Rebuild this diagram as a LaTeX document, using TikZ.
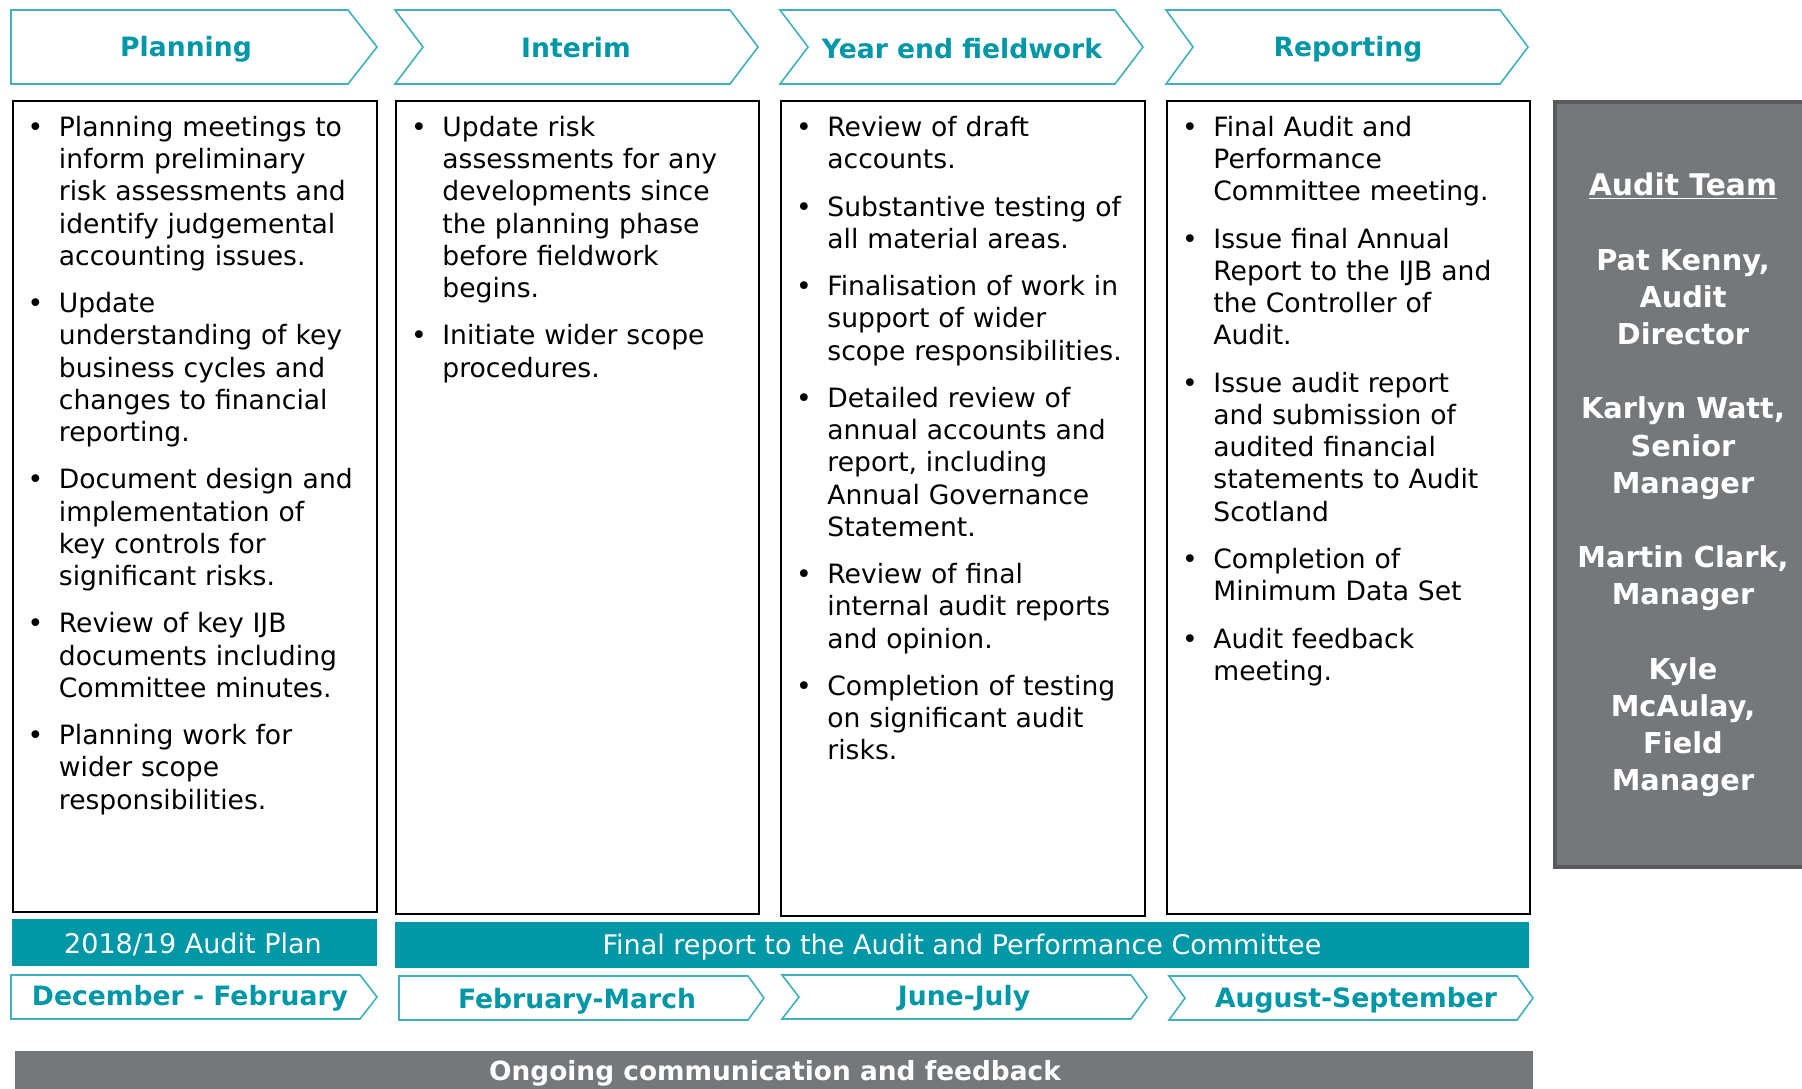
\documentclass[tikz,border=0pt]{standalone}
\usepackage{fontspec}
\setmainfont{DejaVu Sans}

\definecolor{auditteal}{RGB}{0,151,167}
\definecolor{chevline}{RGB}{62,176,190}
\definecolor{bargrey}{RGB}{117,120,123}
\definecolor{teamedge}{RGB}{88,90,93}

\newcommand{\bodyfont}{\fontsize{13.3}{16.1}\selectfont}
\newcommand{\firstitm}{\noindent\llap{\makebox[23.5pt]{\textbullet}}\rule{0pt}{12pt}}
\newcommand{\itm}{\par\firstitm}

\tikzset{
	chevron/.style={draw=chevline, line width=0.8pt, fill=white},
	phasetitle/.style={text=auditteal, font=\fontsize{13.3}{15}\selectfont\bfseries, inner sep=0pt},
	panel/.style={draw=black, line width=1pt, anchor=north west, inner sep=0pt},
	bullets/.style={anchor=north west, inner sep=0pt, text width=172pt, align=left, font=\bodyfont,
		execute at begin node={\setlength{\parskip}{7.6pt}}},
	bartext/.style={text=white, font=\fontsize{13.5}{16}\selectfont, inner sep=0pt},
	teamtext/.style={text=white, align=center, inner sep=0pt, font=\fontsize{14.4}{18.6}\selectfont\bfseries}
}

\begin{document}
\begin{tikzpicture}[x=0.5pt,y=-0.5pt]
	\useasboundingbox (0,0) rectangle (1802,1088);
	\clip (0,0) rectangle (1802,1088);
	
	% phase chevrons
	\draw[chevron] (11,10) -- (348,10) -- (377,47) -- (348,84) -- (11,84) -- cycle;
	\draw[chevron] (395,10) -- (730,10) -- (758,47) -- (730,84) -- (395,84) -- (423,47) -- cycle;
	\draw[chevron] (780,10) -- (1115,10) -- (1143,47) -- (1115,84) -- (780,84) -- (808,47) -- cycle;
	\draw[chevron] (1166,10) -- (1500,10) -- (1528,47) -- (1500,84) -- (1166,84) -- (1193,47) -- cycle;
	\node[phasetitle] (planning) at (186,49) {Planning};
	\node[phasetitle] (interim) at (576,48) {Interim};
	\node[phasetitle] (yearend) at (962,49) {Year end fieldwork};
	\node[phasetitle] (reporting) at (1348,49) {Reporting};
	
	% content panels
	\node[panel, minimum width=182.25pt, minimum height=405.5pt] (planbox) at (11.5,100) {};
	\node[panel, minimum width=181.5pt, minimum height=406.5pt] (interimbox) at (395,100) {};
	\node[panel, minimum width=182pt, minimum height=407.5pt] (yearbox) at (780,100) {};
	\node[panel, minimum width=181.5pt, minimum height=406.5pt] (reportbox) at (1166,100) {};
	
	\node[bullets] (plantext) at ([shift={(23.5pt,-6pt)}]planbox.north west) {%
		\firstitm Planning meetings to\\inform preliminary\\risk assessments and\\identify judgemental\\accounting issues.
		\itm Update\\understanding of key\\business cycles and\\changes to financial\\reporting.
		\itm Document design and\\implementation of\\key controls for\\significant risks.
		\itm Review of key IJB\\documents including\\Committee minutes.
		\itm Planning work for\\wider scope\\responsibilities.};
	\node[bullets] (interimtext) at ([shift={(23.5pt,-6pt)}]interimbox.north west) {%
		\firstitm Update risk\\assessments for any\\developments since\\the planning phase\\before fieldwork\\begins.
		\itm Initiate wider scope\\procedures.};
	\node[bullets] (yeartext) at ([shift={(23.5pt,-6pt)}]yearbox.north west) {%
		\firstitm Review of draft\\accounts.
		\itm Substantive testing of\\all material areas.
		\itm Finalisation of work in\\support of wider\\scope responsibilities.
		\itm Detailed review of\\annual accounts and\\report, including\\Annual Governance\\Statement.
		\itm Review of final\\internal audit reports\\and opinion.
		\itm Completion of testing\\on significant audit\\risks.};
	\node[bullets] (reporttext) at ([shift={(23.5pt,-6pt)}]reportbox.north west) {%
		\firstitm Final Audit and\\Performance\\Committee meeting.
		\itm Issue final Annual\\Report to the IJB and\\the Controller of\\Audit.
		\itm Issue audit report\\and submission of\\audited financial\\statements to Audit\\Scotland
		\itm Completion of\\Minimum Data Set
		\itm Audit feedback\\meeting.};
	
	% audit team
	\draw[fill=bargrey, draw=teamedge, line width=2pt] (1555,102) rectangle (1830,867);
	\node[teamtext] (team) at (1683,485) {{\fontsize{14.9}{18.6}\selectfont\underline{Audit Team}}\\[18.6pt]
		Pat Kenny,\\Audit\\Director\\[18.6pt]
		Karlyn Watt,\\Senior\\Manager\\[18.6pt]
		Martin Clark,\\Manager\\[18.6pt]
		Kyle\\McAulay,\\Field\\Manager};
	
	% reporting bars
	\fill[auditteal] (11.5,919) rectangle (377,966);
	\fill[auditteal] (395,922) rectangle (1529,968);
	\node[bartext] (plan) at (193,944) {2018/19 Audit Plan};
	\node[bartext] (final) at (962,947) {Final report to the Audit and Performance Committee};
	
	% timing chevrons
	\draw[chevron] (11,975) -- (360,975) -- (377,997) -- (360,1019) -- (11,1019) -- cycle;
	\draw[chevron] (399,976) -- (748,976) -- (764,998) -- (748,1020) -- (399,1020) -- cycle;
	\draw[chevron] (782,975) -- (1131,975) -- (1147,997) -- (1131,1019) -- (782,1019) -- (799,997) -- cycle;
	\draw[chevron] (1169,976) -- (1517,976) -- (1533,998) -- (1517,1020) -- (1169,1020) -- (1185,998) -- cycle;
	\node[phasetitle] (decfeb) at (190,998) {December - February};
	\node[phasetitle] (febmar) at (577,1001) {February-March};
	\node[phasetitle] (junjul) at (964,998) {June-July};
	\node[phasetitle] (augsep) at (1356,1000) {August-September};
	
	% ongoing bar
	\fill[bargrey] (15,1051) rectangle (1533,1100);
	\node[bartext, font=\fontsize{13.2}{15}\selectfont\bfseries] (ongoing) at (775,1073) {Ongoing communication and feedback};
\end{tikzpicture}
\end{document}
